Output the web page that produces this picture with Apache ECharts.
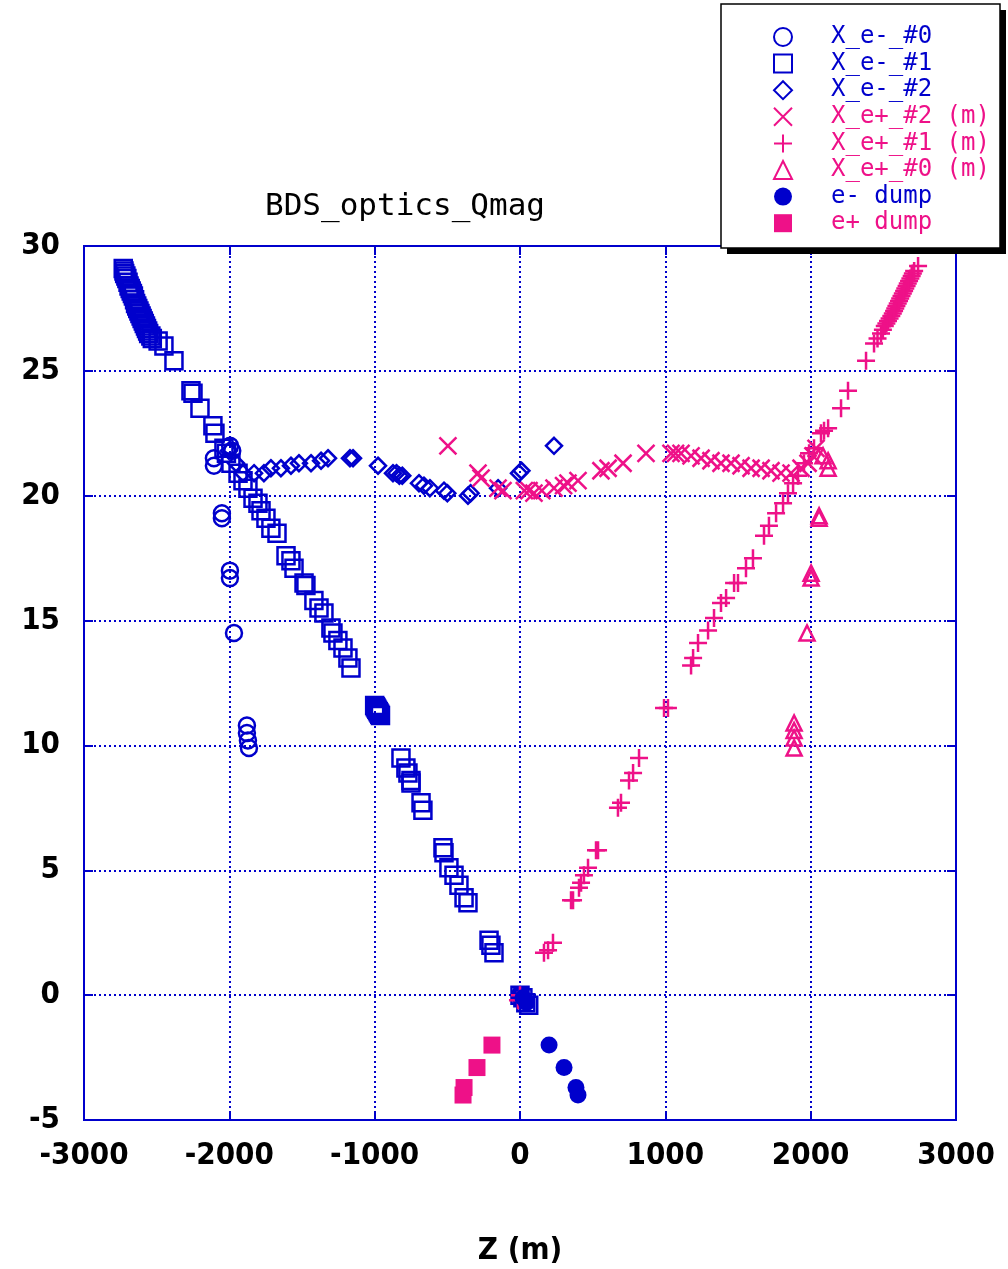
<!DOCTYPE html>
<html>
<head>
<meta charset="utf-8">
<script src="https://cdn.jsdelivr.net/npm/echarts@6/dist/echarts.min.js"></script>
<style>
  html, body { margin: 0; padding: 0; background: #fff; }
  #chart { width: 1008px; height: 1269px; }
</style>
</head>
<body>
<div id="chart"></div>
<script>
// axis ticks
var xTicks = [-3000, 3000, 1000];
var yTicks = [-5, 30, 5];

// e- beam, X (m) vs Z (m)
var eMinus0 = [[-2106, 21.5], [-2106, 21.2], [-2051, 19.3], [-2051, 19.1], [-1996, 17.0], [-1996, 16.7],
  [-1968, 14.5], [-1879, 10.8], [-1879, 10.5], [-1872, 10.2], [-1865, 9.9], [-1995, 22.0], [-1980, 21.8],
  [0, 0], [10, -0.1]];
var eMinus1 = [[-2730, 29.1], [-2725, 29.0], [-2720, 28.9], [-2712, 28.8], [-2705, 28.7], [-2697, 28.55],
  [-2690, 28.4], [-2682, 28.3], [-2675, 28.2], [-2667, 28.1], [-2660, 28.0], [-2652, 27.85], [-2645, 27.7],
  [-2637, 27.6], [-2630, 27.5], [-2622, 27.4], [-2615, 27.3], [-2607, 27.2], [-2600, 27.1], [-2592, 27.0],
  [-2585, 26.9], [-2577, 26.8], [-2570, 26.7], [-2562, 26.6], [-2555, 26.5], [-2540, 26.4],
  [-2530, 26.3], [-2490, 26.2], [-2450, 26.0], [-2381, 25.4], [-2264, 24.2], [-2250, 24.1], [-2202, 23.5],
  [-2113, 22.8], [-2099, 22.5], [-2037, 21.9], [-2020, 21.7], [-1989, 21.3], [-1940, 20.9], [-1906, 20.6],
  [-1872, 20.3], [-1837, 19.9], [-1803, 19.7], [-1782, 19.4], [-1748, 19.1], [-1714, 18.7], [-1672, 18.5],
  [-1610, 17.6], [-1576, 17.4], [-1555, 17.1], [-1486, 16.5], [-1473, 16.4], [-1418, 15.8], [-1383, 15.5],
  [-1349, 15.3], [-1301, 14.7], [-1287, 14.5], [-1253, 14.2], [-1218, 13.9], [-1184, 13.5], [-1163, 13.1],
  [-1000, 11.6], [-995, 11.55], [-990, 11.5], [-985, 11.45], [-980, 11.4], [-975, 11.35], [-970, 11.3],
  [-965, 11.25], [-960, 11.2], [-819, 9.5], [-785, 9.1],
  [-771, 8.9], [-750, 8.6], [-750, 8.5], [-681, 7.7], [-668, 7.4], [-530, 5.9], [-523, 5.7], [-489, 5.1],
  [-454, 4.8], [-420, 4.4], [-385, 3.9], [-358, 3.7], [-213, 2.2], [-200, 2.0], [-179, 1.7],
  [0, 0], [20, -0.1], [40, -0.3], [60, -0.4]];
var eMinus2 = [[-2003, 21.8], [-1954, 21.3], [-1906, 20.9], [-1830, 20.9], [-1762, 20.9], [-1714, 21.1],
  [-1645, 21.1], [-1576, 21.2], [-1521, 21.3], [-1438, 21.3], [-1369, 21.4], [-1321, 21.5], [-1170, 21.5],
  [-1149, 21.5], [-977, 21.2], [-874, 20.9], [-850, 20.9], [-830, 20.8], [-810, 20.8], [-695, 20.5],
  [-661, 20.4], [-620, 20.3], [-523, 20.2], [-500, 20.1], [-358, 20.0], [-340, 20.1], [-151, 20.3],
  [-7, 20.9], [10, 21.0], [234, 22.0], [0, 0]];

// e+ beam (mirrored)
var ePlus2 = [[-496, 22.0], [-289, 20.9], [-268, 20.7], [-151, 20.3], [-117, 20.2], [30, 20.2], [62, 20.2],
  [96, 20.1], [150, 20.2], [234, 20.3], [300, 20.4], [330, 20.5], [399, 20.6], [557, 21.0], [606, 21.1],
  [709, 21.3], [867, 21.7], [1039, 21.7], [1070, 21.7], [1108, 21.7], [1177, 21.6], [1246, 21.5],
  [1314, 21.4], [1383, 21.3], [1452, 21.3], [1521, 21.2], [1590, 21.1], [1659, 21.1], [1727, 21.0],
  [1796, 20.9], [1865, 20.9], [1934, 21.1], [1982, 21.3], [2016, 21.6], [2037, 21.9]];
var ePlus1 = [[-14, -0.2], [0, 0], [165, 1.7], [193, 1.8], [227, 2.1], [351, 3.8], [365, 3.8], [406, 4.3],
  [420, 4.5], [440, 4.8], [468, 5.1], [523, 5.8], [537, 5.8], [674, 7.5], [695, 7.7], [750, 8.6],
  [778, 8.9], [819, 9.5], [991, 11.5], [1018, 11.5], [1177, 13.2], [1191, 13.5], [1225, 14.1],
  [1294, 14.6], [1335, 15.1], [1383, 15.7], [1418, 15.9], [1473, 16.5], [1500, 16.5], [1555, 17.1],
  [1603, 17.5], [1679, 18.4], [1713, 18.8], [1762, 19.3], [1810, 19.7], [1844, 20.1], [1879, 20.5],
  [1913, 20.8], [1954, 21.3], [1989, 21.7], [2023, 21.9], [2071, 22.5], [2092, 22.6], [2120, 22.7],
  [2209, 23.5], [2257, 24.2], [2381, 25.4], [2436, 26.1], [2460, 26.3], [2484, 26.5], [2497, 26.65],
  [2510, 26.8], [2521, 26.9], [2532, 27.0], [2543, 27.1], [2555, 27.2], [2565, 27.3], [2574, 27.4],
  [2582, 27.5], [2590, 27.6], [2599, 27.7], [2608, 27.8], [2616, 27.9], [2625, 28.0], [2634, 28.1],
  [2643, 28.2], [2651, 28.3], [2660, 28.4], [2668, 28.5], [2677, 28.6], [2686, 28.7], [2695, 28.8],
  [2703, 28.9], [2712, 29.0], [2739, 29.2]];
var ePlus0 = [[2120, 21.4], [2120, 21.1], [2058, 19.2], [2058, 19.1], [2003, 16.9], [2003, 16.7],
  [1975, 14.5], [1886, 10.9], [1886, 10.6], [1886, 10.3], [1886, 9.9], [2085, 21.6]];

// beam dumps
var eMinusDump = [[200, -2.0], [303, -2.9], [385, -3.7], [399, -4.0], [20, -0.1], [45, -0.3]];
var ePlusDump = [[-193, -2.0], [-296, -2.9], [-385, -3.7], [-392, -4.0]];

var BLUE = "#0000cc";
var PINK = "#ee1188";
var HOLLOW = "rgba(0,0,0,0)";

var chart = echarts.init(document.getElementById("chart"));

function hollow(name, data, symbol, size, color) {
  return {
    name: name,
    type: "scatter",
    data: data,
    symbol: symbol,
    symbolSize: size,
    itemStyle: { color: HOLLOW, borderColor: color, borderWidth: 2.5, opacity: 1 },
    emphasis: { disabled: true },
  };
}

function legendItem(name, color) {
  return { name: name, textStyle: { color: color } };
}

var tickFont = {
  fontFamily: "DejaVu Sans Condensed, DejaVu Sans",
  fontWeight: "bold",
  fontSize: 31,
  color: "#000",
};

var option = {
  animation: false,
  backgroundColor: "#fff",
  title: {
    text: "BDS_optics_Qmag",
    left: 260,
    top: 186,
    textStyle: {
      fontFamily: "DejaVu Sans Mono",
      fontSize: 31,
      fontWeight: "normal",
      color: "#000",
    },
  },
  graphic: [
    { type: "rect", shape: { x: 727, y: 10, width: 279, height: 244 }, style: { fill: "#000" }, z: 10 },
    { type: "rect", shape: { x: 721, y: 4, width: 279, height: 244 }, style: { fill: "#fff", stroke: "#000", lineWidth: 1.5 }, z: 11 },
  ],
  legend: {
    orient: "vertical",
    left: 773,
    top: 25,
    padding: 0,
    itemGap: 2.6,
    itemWidth: 18,
    itemHeight: 18,
    z: 20,
    textStyle: {
      fontFamily: "DejaVu Sans Mono",
      fontSize: 24,
      lineHeight: 24,
      padding: [0, 0, 0, 34],
    },
    data: [
      legendItem("X_e-_#0", BLUE),
      legendItem("X_e-_#1", BLUE),
      legendItem("X_e-_#2", BLUE),
      legendItem("X_e+_#2 (m)", PINK),
      legendItem("X_e+_#1 (m)", PINK),
      legendItem("X_e+_#0 (m)", PINK),
      legendItem("e- dump", BLUE),
      legendItem("e+ dump", PINK),
    ],
  },
  grid: {
    left: 84,
    right: 52,
    top: 246,
    bottom: 149,
    outerBoundsMode: "none",
    containLabel: false,
    show: true,
    borderColor: BLUE,
    borderWidth: 2,
  },
  xAxis: [
    {
      type: "value",
      min: xTicks[0],
      max: xTicks[1],
      interval: xTicks[2],
      name: "Z (m)",
      nameLocation: "middle",
      nameGap: 115,
      nameTextStyle: tickFont,
      axisLine: { show: true, onZero: false, lineStyle: { color: BLUE, width: 2 } },
      axisTick: { show: true, inside: true, length: 9, lineStyle: { color: BLUE, width: 2 } },
      axisLabel: Object.assign({ margin: 20, formatter: function (v) { return String(v); } }, tickFont),
      splitLine: { show: true, lineStyle: { color: BLUE, width: 2, type: [2, 3] } },
    },
    {
      type: "value",
      position: "top",
      min: xTicks[0],
      max: xTicks[1],
      interval: xTicks[2],
      axisLine: { show: false, onZero: false },
      axisTick: { show: true, inside: true, length: 9, lineStyle: { color: BLUE, width: 2 } },
      axisLabel: { show: false },
      splitLine: { show: false },
    },
  ],
  yAxis: [
    {
      type: "value",
      min: yTicks[0],
      max: yTicks[1],
      interval: yTicks[2],
      axisLine: { show: true, onZero: false, lineStyle: { color: BLUE, width: 2 } },
      axisTick: { show: true, inside: true, length: 9, lineStyle: { color: BLUE, width: 2 } },
      axisLabel: Object.assign({ margin: 24 }, tickFont),
      splitLine: { show: true, lineStyle: { color: BLUE, width: 2, type: [2, 3] } },
    },
    {
      type: "value",
      position: "right",
      min: yTicks[0],
      max: yTicks[1],
      interval: yTicks[2],
      axisLine: { show: false, onZero: false },
      axisTick: { show: true, inside: true, length: 9, lineStyle: { color: BLUE, width: 2 } },
      axisLabel: { show: false },
      splitLine: { show: false },
    },
  ],
  series: [
    hollow("X_e-_#0", eMinus0, "circle", 16, BLUE),
    hollow("X_e-_#1", eMinus1, "rect", 17, BLUE),
    hollow("X_e-_#2", eMinus2, "diamond", 16, BLUE),
    hollow("X_e+_#2 (m)", ePlus2, "path://M0,0L10,10M10,0L0,10", 17, PINK),
    hollow("X_e+_#1 (m)", ePlus1, "path://M5,0L5,10M0,5L10,5", 18, PINK),
    hollow("X_e+_#0 (m)", ePlus0, "triangle", 15, PINK),
    {
      name: "e- dump",
      type: "scatter",
      data: eMinusDump,
      symbol: "circle",
      symbolSize: 17,
      itemStyle: { color: BLUE, opacity: 1 },
      emphasis: { disabled: true },
    },
    {
      name: "e+ dump",
      type: "scatter",
      data: ePlusDump,
      symbol: "rect",
      symbolSize: 17,
      itemStyle: { color: PINK, opacity: 1 },
      emphasis: { disabled: true },
    },
  ],
};

chart.setOption(option);
window.addEventListener("resize", function () {
  chart.resize();
});
</script>
</body>
</html>
